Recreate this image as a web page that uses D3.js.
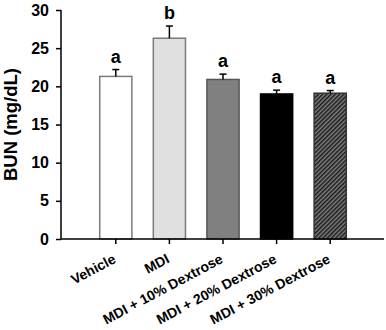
<!DOCTYPE html>
<html>
<head>
<meta charset="utf-8">
<script src="https://cdn.jsdelivr.net/npm/d3@7"></script>
<style>
  body { margin: 0; background: #fff; }
  svg text { font-family: "Liberation Sans", Arial, sans-serif; font-weight: bold; fill: #000; }
</style>
</head>
<body>
<div id="chart"></div>
<script>
const categories = ["Vehicle", "MDI", "MDI + 10% Dextrose", "MDI + 20% Dextrose", "MDI + 30% Dextrose"];
const means = [21.3, 26.3, 20.9, 19.0, 19.1];
const sems = [0.9, 1.6, 0.7, 0.5, 0.35];
const letters = ["a", "b", "a", "a", "a"];
const yTicks = [0, 5, 10, 15, 20, 25, 30];
const fills = ["#ffffff", "#e0e0e0", "#808080", "#000000", "url(#hatch)"];
const strokes = ["#7a7a7a", "#7a7a7a", "#555555", "#000000", "#333333"];

const width = 386, height = 330;
const axisLeft = 61, axisRight = 384, axisBottom = 239, axisTop = 10;

const svg = d3.select("#chart").append("svg")
    .attr("width", width)
    .attr("height", height);

// hatch for last bar
const pat = svg.append("defs").append("pattern")
    .attr("id", "hatch")
    .attr("patternUnits", "userSpaceOnUse")
    .attr("width", 3)
    .attr("height", 3)
    .attr("patternTransform", "rotate(45)");
pat.append("rect").attr("width", 3).attr("height", 3).attr("fill", "#808080");
pat.append("line")
    .attr("x1", 0.75).attr("x2", 0.75)
    .attr("y1", 0).attr("y2", 3)
    .attr("stroke", "#1a1a1a")
    .attr("stroke-width", 1.5);

const y = d3.scaleLinear().domain([0, 30]).range([axisBottom, axisTop]);
const x = d3.scaleBand()
    .domain(categories)
    .range([89, 357])
    .paddingInner(0.4)
    .paddingOuter(0.2);

// bars
svg.append("g").selectAll("rect")
    .data(categories)
    .join("rect")
    .attr("x", d => x(d))
    .attr("y", (d, i) => y(means[i]))
    .attr("width", x.bandwidth())
    .attr("height", (d, i) => y(0) - y(means[i]))
    .attr("fill", (d, i) => fills[i])
    .attr("stroke", (d, i) => strokes[i])
    .attr("stroke-width", 1.5);

// error bars (upper only)
const err = svg.append("g").attr("stroke", "#000").attr("stroke-width", 1.5);
categories.forEach((c, i) => {
    const cx = x(c) + x.bandwidth() / 2;
    err.append("line")
        .attr("x1", cx).attr("x2", cx)
        .attr("y1", y(means[i])).attr("y2", y(means[i] + sems[i]));
    err.append("line")
        .attr("x1", cx - 3.5).attr("x2", cx + 3.5)
        .attr("y1", y(means[i] + sems[i])).attr("y2", y(means[i] + sems[i]));
});

// significance letters
svg.append("g").selectAll("text")
    .data(categories)
    .join("text")
    .attr("x", d => x(d) + x.bandwidth() / 2)
    .attr("y", (d, i) => y(means[i] + sems[i]) - 7)
    .attr("text-anchor", "middle")
    .style("font-size", "18px")
    .text((d, i) => letters[i]);

// y axis
const yAxis = svg.append("g")
    .attr("transform", `translate(${axisLeft},0)`)
    .call(d3.axisLeft(y).tickValues(yTicks).tickSize(5).tickPadding(7));
yAxis.select(".domain").attr("d", `M0,${axisTop}V${axisBottom}`).attr("stroke-width", 1.5);
yAxis.selectAll(".tick line").attr("stroke-width", 1.5);
yAxis.selectAll("text").style("font-size", "16px");

// x axis
const xAxis = svg.append("g")
    .attr("transform", `translate(0,${axisBottom})`)
    .call(d3.axisBottom(x).tickSize(5).tickSizeOuter(0));
xAxis.select(".domain").attr("d", `M${axisLeft},0H${axisRight}`).attr("stroke-width", 1.5);
xAxis.selectAll(".tick line").attr("stroke-width", 1.5);
xAxis.selectAll(".tick text")
    .attr("y", 0)
    .attr("dy", 0)
    .attr("text-anchor", "end")
    .attr("transform", "translate(1,23) rotate(-28)")
    .style("font-size", "14px");

// y label
svg.append("text")
    .attr("transform", `translate(17,${(axisTop + axisBottom) / 2}) rotate(-90)`)
    .attr("text-anchor", "middle")
    .style("font-size", "18.5px")
    .text("BUN (mg/dL)");
</script>
</body>
</html>
